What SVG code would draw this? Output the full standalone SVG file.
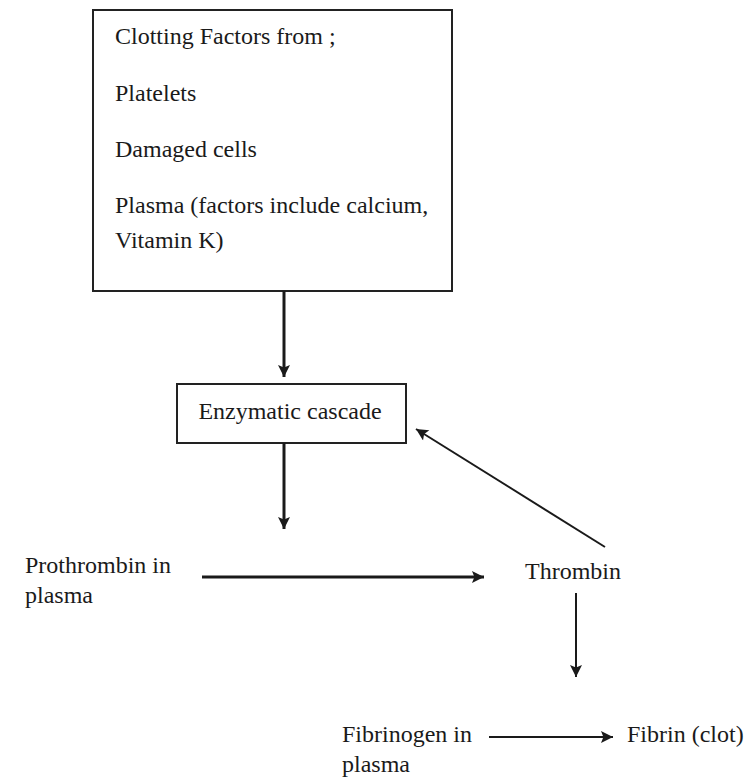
<svg xmlns="http://www.w3.org/2000/svg" width="752" height="780" viewBox="0 0 752 780">
<style>
text{font-family:"Liberation Serif","Times New Roman",serif;font-size:24px;fill:#1a1a1a}
.box{fill:#fff;stroke:#222;stroke-width:2}
.thick{stroke:#1a1a1a;stroke-width:3;fill:none}
.thin{stroke:#1a1a1a;stroke-width:2;fill:none}
</style>
<defs>
<marker id="ah" viewBox="0 0 10 10" refX="10" refY="5" markerUnits="userSpaceOnUse" markerWidth="15" markerHeight="12" orient="auto">
<path d="M0,0 L10,5 L0,10 L2,5 z" fill="#1a1a1a"/>
</marker>
</defs>
<rect width="752" height="780" fill="#fff"/>
<g id="factors">
<rect class="box" x="93" y="10" width="359" height="281"/>
<text x="115" y="44">Clotting Factors from ;</text>
<text x="115" y="101">Platelets</text>
<text x="115" y="157">Damaged cells</text>
<text x="115" y="213">Plasma (factors include calcium,</text>
<text x="115" y="248">Vitamin K)</text>
</g>
<g id="cascade">
<rect class="box" x="177" y="384" width="229" height="59"/>
<text x="290" y="419" text-anchor="middle">Enzymatic cascade</text>
</g>
<g id="prothrombin">
<text x="25" y="573">Prothrombin in</text>
<text x="25" y="603">plasma</text>
</g>
<g id="thrombin">
<text x="525" y="579">Thrombin</text>
</g>
<g id="fibrinogen">
<text x="342" y="742">Fibrinogen in</text>
<text x="342" y="772">plasma</text>
</g>
<g id="fibrin">
<text x="627" y="742">Fibrin (clot)</text>
</g>
<g id="connectors">
<line class="thick" x1="284" y1="291" x2="284" y2="377" marker-end="url(#ah)"/>
<line class="thick" x1="284" y1="443" x2="284" y2="529" marker-end="url(#ah)"/>
<line class="thick" x1="202" y1="577" x2="484" y2="577" marker-end="url(#ah)"/>
<line class="thin" x1="605" y1="547" x2="416" y2="429" marker-end="url(#ah)"/>
<line class="thin" x1="576" y1="593" x2="576" y2="677" marker-end="url(#ah)"/>
<line class="thin" x1="489" y1="737" x2="613" y2="737" marker-end="url(#ah)"/>
</g>
</svg>
